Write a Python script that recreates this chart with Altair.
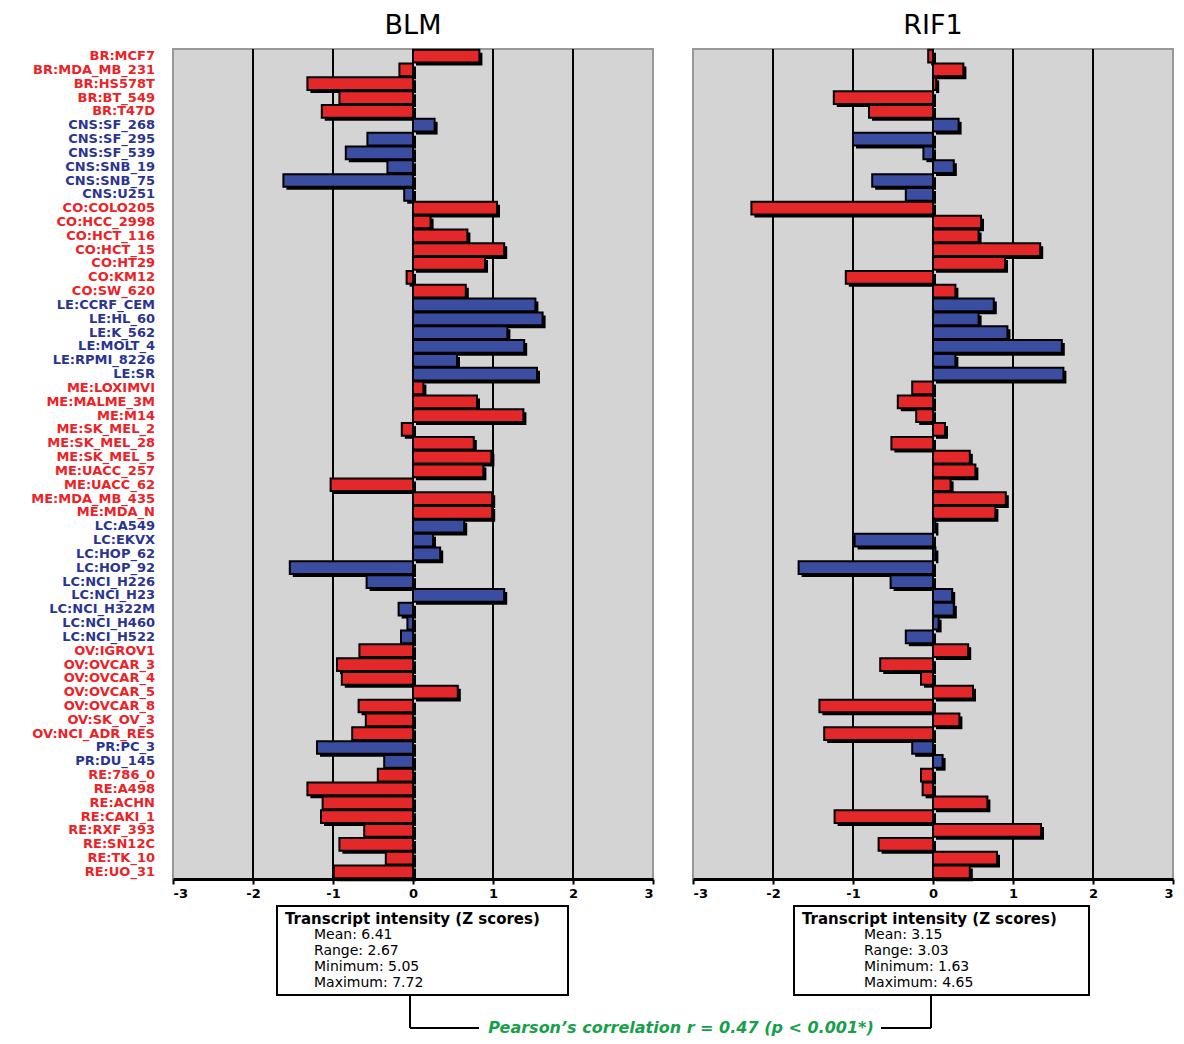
import altair as alt
import pandas as pd

# ---------------- data ----------------
cells = ["BR:MCF7", "BR:MDA_MB_231", "BR:HS578T", "BR:BT_549", "BR:T47D",
         "CNS:SF_268", "CNS:SF_295", "CNS:SF_539", "CNS:SNB_19", "CNS:SNB_75", "CNS:U251",
         "CO:COLO205", "CO:HCC_2998", "CO:HCT_116", "CO:HCT_15", "CO:HT29", "CO:KM12", "CO:SW_620",
         "LE:CCRF_CEM", "LE:HL_60", "LE:K_562", "LE:MOLT_4", "LE:RPMI_8226", "LE:SR",
         "ME:LOXIMVI", "ME:MALME_3M", "ME:M14", "ME:SK_MEL_2", "ME:SK_MEL_28", "ME:SK_MEL_5",
         "ME:UACC_257", "ME:UACC_62", "ME:MDA_MB_435", "ME:MDA_N",
         "LC:A549", "LC:EKVX", "LC:HOP_62", "LC:HOP_92", "LC:NCI_H226", "LC:NCI_H23",
         "LC:NCI_H322M", "LC:NCI_H460", "LC:NCI_H522",
         "OV:IGROV1", "OV:OVCAR_3", "OV:OVCAR_4", "OV:OVCAR_5", "OV:OVCAR_8", "OV:SK_OV_3",
         "OV:NCI_ADR_RES", "PR:PC_3", "PR:DU_145",
         "RE:786_0", "RE:A498", "RE:ACHN", "RE:CAKI_1", "RE:RXF_393", "RE:SN12C", "RE:TK_10", "RE:UO_31"]

blm = [0.83, -0.17, -1.32, -0.92, -1.14,
       0.27, -0.57, -0.84, -0.32, -1.62, -0.11,
       1.05, 0.22, 0.68, 1.14, 0.90, -0.08, 0.66,
       1.53, 1.62, 1.18, 1.39, 0.55, 1.55,
       0.13, 0.80, 1.38, -0.14, 0.76, 0.98, 0.88, -1.03, 0.99, 0.99,
       0.64, 0.25, 0.34, -1.54, -0.58, 1.14, -0.18, -0.07, -0.15,
       -0.67, -0.95, -0.89, 0.56, -0.68, -0.59, -0.76,
       -1.20, -0.36,
       -0.44, -1.32, -1.13, -1.15, -0.61, -0.92, -0.34, -0.99]

rif1 = [-0.06, 0.38, 0.04, -1.24, -0.80,
        0.32, -1.00, -0.12, 0.26, -0.76, -0.34,
        -2.27, 0.60, 0.57, 1.34, 0.90, -1.09, 0.28,
        0.76, 0.57, 0.93, 1.61, 0.28, 1.63,
        -0.26, -0.44, -0.21, 0.15, -0.52, 0.46, 0.53, 0.22, 0.91, 0.78,
        0.03, -0.98, 0.03, -1.68, -0.53, 0.24, 0.26, 0.07, -0.34,
        0.44, -0.66, -0.15, 0.50, -1.42, 0.33, -1.36,
        -0.26, 0.12,
        -0.15, -0.13, 0.68, -1.23, 1.35, -0.68, 0.80, 0.46]

blue_groups = ["CNS", "LE", "LC", "PR"]
x_ticks = [-3, -2, -1, 0, 1, 2, 3]
grid_vals = [-2, -1, 0, 1, 2]

heading = "Transcript intensity (Z  scores)"
blm_stats = ["Mean: 6.41", "Range: 2.67", "Minimum: 5.05", "Maximum: 7.72"]
rif1_stats = ["Mean: 3.15", "Range: 3.03", "Minimum: 1.63", "Maximum: 4.65"]
corr_text = "Pearson\u2019s correlation r = 0.47 (p < 0.001*)"

# ---------------- styling ----------------
W, H, SP = 480, 830, 40
RED_BAR, BLUE_BAR = "#e4282a", "#3a4da1"
RED_LBL, BLUE_LBL = "#ec2227", "#2b3590"
GREEN = "#16a04a"
FONT = "DejaVu Sans"

df = pd.DataFrame({"cell": cells, "blm": blm, "rif1": rif1})
df["grp"] = ["b" if c.split(":")[0] in blue_groups else "r" for c in cells]
grid_df = pd.DataFrame({"g": grid_vals})
one = pd.DataFrame({"a": [0]})

xscale = alt.Scale(domain=[-3, 3], nice=False)
xaxis = alt.Axis(values=x_ticks, title=None, grid=False, domainColor="black", domainWidth=3,
                 tickColor="black", tickWidth=2, tickSize=5, labelFont=FONT,
                 labelFontWeight="bold", labelFontSize=13, labelColor="black",
                 labelPadding=3, labelExpr="'' + datum.value")
yenc = alt.Y("cell:N", sort=cells, axis=None,
             scale=alt.Scale(paddingInner=0.08, paddingOuter=0.05))


def panel(field, title, stats, box_x0, box_x1, stats_x, conn_x, hline, with_labels, with_corr):
    grid = alt.Chart(grid_df).mark_rule(color="black", strokeWidth=2).encode(
        x=alt.X("g:Q", scale=xscale, axis=xaxis))
    shadow = alt.Chart(df).mark_bar(color="black", xOffset=3, x2Offset=3,
                                    yOffset=3, y2Offset=3).encode(
        x=alt.X(f"{field}:Q", scale=xscale, axis=xaxis), x2=alt.datum(0), y=yenc)
    bars = alt.Chart(df).mark_bar(stroke="black", strokeWidth=2).encode(
        x=alt.X(f"{field}:Q", scale=xscale, axis=xaxis), x2=alt.datum(0), y=yenc,
        fill=alt.Fill("grp:N", scale=alt.Scale(domain=["r", "b"], range=[RED_BAR, BLUE_BAR]),
                      legend=None))
    layers = [grid, shadow, bars]
    if with_labels:
        labels = alt.Chart(df).mark_text(align="right", baseline="middle", font=FONT,
                                         fontWeight="bold", fontSize=13).encode(
            x=alt.value(-18), y=yenc, text="cell:N",
            color=alt.Color("grp:N", scale=alt.Scale(domain=["r", "b"], range=[RED_LBL, BLUE_LBL]),
                            legend=None))
        spacer = alt.Chart(one).mark_rule(color="white", strokeWidth=1).encode(
            x=alt.value(-163), y=alt.value(0), y2=alt.value(1))
        layers += [labels, spacer]
    box = alt.Chart(one).mark_rect(fill="white", stroke="black", strokeWidth=2).encode(
        x=alt.value(box_x0), x2=alt.value(box_x1), y=alt.value(H + 27), y2=alt.value(H + 116))
    head = alt.Chart(one).mark_text(align="left", baseline="middle", font=FONT,
                                    fontWeight="bold", fontSize=15, color="black").encode(
        x=alt.value(box_x0 + 8), y=alt.value(H + 40), text=alt.value(heading))
    st = alt.Chart(one).mark_text(align="left", baseline="top", font=FONT, fontSize=14,
                                  lineBreak="\n", lineHeight=16, color="black").encode(
        x=alt.value(stats_x), y=alt.value(H + 49), text=alt.value("\n".join(stats)))
    vline = alt.Chart(one).mark_rule(color="black", strokeWidth=2).encode(
        x=alt.value(conn_x), y=alt.value(H + 116), y2=alt.value(H + 149))
    hl = alt.Chart(one).mark_rule(color="black", strokeWidth=2).encode(
        x=alt.value(hline[0]), x2=alt.value(hline[1]), y=alt.value(H + 149))
    layers += [box, head, st, vline, hl]
    if with_corr:
        corr = alt.Chart(one).mark_text(align="center", baseline="middle", font=FONT,
                                        fontWeight="bold", fontStyle="italic", fontSize=16,
                                        color=GREEN).encode(
            x=alt.value(508), y=alt.value(H + 149), text=alt.value(corr_text))
        layers.append(corr)
    return alt.layer(*layers).properties(
        width=W, height=H,
        title=alt.TitleParams(text=title, font=FONT, fontSize=27, fontWeight="normal",
                              anchor="middle", frame="group", offset=8, color="black"))


left = panel("blm", "BLM", blm_stats, 104, 395, 141, 237, (237, 306), True, True)
right = panel("rif1", "RIF1", rif1_stats, 101, 396, 171, 238, (188, 238), False, False)

chart = alt.hconcat(left, right, spacing=SP, bounds="flush").properties(
    padding={"left": 0, "top": 3, "right": 0, "bottom": 0}
).configure_view(fill="#d4d4d4", stroke="#999999", strokeWidth=2)

chart.save("out.html", embed_options={"renderer": "svg", "actions": False})
